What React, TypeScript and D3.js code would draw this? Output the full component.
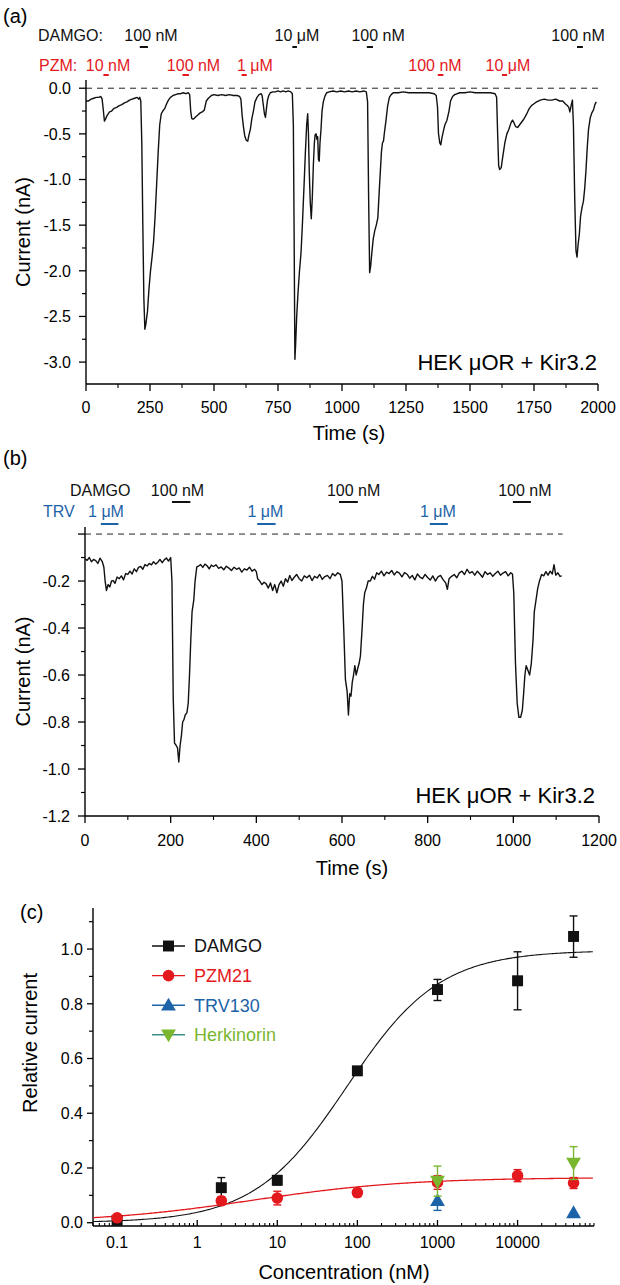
import React from "react";
import * as d3 from "d3";

const FONT = "'Liberation Sans', Arial, Helvetica, sans-serif";
const W = 620;
const H = 1285;

// ---------------- Panel (a) ----------------
const traceA: [number, number][] = [
  [0,-0.14],[10,-0.14],[20,-0.12],[30,-0.11],[40,-0.10],[50,-0.10],[58,-0.09],[63,-0.12],[68,-0.25],[72,-0.36],[76,-0.34],[82,-0.30],
  [92,-0.26],[100,-0.25],[110,-0.22],[120,-0.21],[130,-0.19],[140,-0.18],[150,-0.16],[160,-0.15],[170,-0.13],[180,-0.12],[190,-0.11],
  [200,-0.10],[206,-0.12],[210,-0.10],[214,-0.14],[218,-0.6],[222,-1.5],[226,-2.3],[230,-2.64],[234,-2.58],[240,-2.45],[246,-2.2],
  [252,-2.0],[258,-1.85],[264,-1.68],[270,-1.4],[276,-1.05],[282,-0.7],[288,-0.4],[294,-0.28],[300,-0.25],[308,-0.22],[315,-0.17],
  [322,-0.13],[330,-0.10],[340,-0.08],[350,-0.07],[360,-0.06],[370,-0.06],[380,-0.05],[390,-0.06],[400,-0.05],[405,-0.07],[409,-0.25],
  [413,-0.33],[418,-0.34],[423,-0.33],[430,-0.31],[438,-0.29],[446,-0.27],[454,-0.26],[462,-0.24],[466,-0.19],[470,-0.14],[478,-0.11],
  [490,-0.08],[500,-0.07],[515,-0.08],[530,-0.07],[545,-0.08],[560,-0.07],[575,-0.08],[590,-0.08],[600,-0.09],[605,-0.12],[610,-0.30],
  [615,-0.42],[620,-0.52],[626,-0.57],[632,-0.58],[636,-0.52],[642,-0.45],[648,-0.33],[654,-0.25],[660,-0.15],[668,-0.10],[676,-0.07],
  [684,-0.06],[688,-0.08],[692,-0.17],[697,-0.28],[701,-0.32],[705,-0.22],[709,-0.13],[714,-0.08],[720,-0.05],[730,-0.04],[740,-0.04],
  [750,-0.03],[760,-0.04],[770,-0.03],[780,-0.04],[790,-0.03],[800,-0.04],[806,-0.06],[810,-0.4],[813,-1.6],[816,-2.97],[819,-2.8],
  [823,-2.5],[828,-2.25],[834,-2.0],[840,-1.8],[846,-1.45],[852,-1.05],[857,-0.7],[862,-0.4],[866,-0.28],[869,-0.5],[872,-0.9],
  [876,-1.25],[880,-1.43],[884,-1.2],[888,-0.85],[892,-0.6],[895,-0.51],[899,-0.5],[902,-0.56],[905,-0.53],[908,-0.78],[911,-0.8],
  [914,-0.6],[918,-0.45],[922,-0.25],[927,-0.15],[933,-0.09],[940,-0.05],[950,-0.04],[965,-0.03],[980,-0.04],[995,-0.03],[1010,-0.04],
  [1025,-0.03],[1040,-0.04],[1055,-0.03],[1070,-0.04],[1085,-0.03],[1095,-0.04],[1100,-0.15],[1104,-1.2],[1108,-2.02],[1112,-1.95],
  [1116,-1.82],[1122,-1.65],[1128,-1.56],[1134,-1.5],[1140,-1.42],[1146,-1.1],[1150,-0.9],[1154,-0.7],[1158,-0.6],[1162,-0.58],
  [1166,-0.48],[1172,-0.35],[1178,-0.2],[1185,-0.1],[1192,-0.07],[1200,-0.05],[1220,-0.05],[1240,-0.04],[1260,-0.05],[1280,-0.05],
  [1300,-0.05],[1320,-0.05],[1340,-0.05],[1360,-0.06],[1368,-0.08],[1373,-0.2],[1377,-0.5],[1382,-0.6],[1386,-0.62],[1390,-0.55],
  [1396,-0.47],[1402,-0.4],[1410,-0.35],[1418,-0.25],[1424,-0.14],[1432,-0.09],[1440,-0.07],[1460,-0.05],[1480,-0.05],[1500,-0.04],
  [1520,-0.05],[1540,-0.05],[1560,-0.05],[1580,-0.05],[1598,-0.06],[1604,-0.1],[1608,-0.5],[1612,-0.85],[1616,-0.89],[1622,-0.87],
  [1628,-0.75],[1636,-0.6],[1644,-0.5],[1652,-0.45],[1660,-0.38],[1666,-0.35],[1672,-0.38],[1678,-0.42],[1686,-0.43],[1694,-0.4],
  [1702,-0.37],[1710,-0.34],[1720,-0.29],[1730,-0.23],[1740,-0.19],[1750,-0.17],[1760,-0.15],[1775,-0.13],[1790,-0.12],[1805,-0.13],
  [1820,-0.13],[1835,-0.12],[1850,-0.14],[1862,-0.14],[1872,-0.17],[1880,-0.19],[1886,-0.21],[1890,-0.26],[1895,-0.19],[1900,-0.13],
  [1904,-0.4],[1909,-1.2],[1914,-1.78],[1918,-1.85],[1922,-1.72],[1927,-1.6],[1932,-1.4],[1938,-1.3],[1943,-1.24],[1948,-1.1],
  [1953,-0.9],[1958,-0.65],[1963,-0.45],[1970,-0.32],[1976,-0.27],[1982,-0.24],[1988,-0.18],[1993,-0.15],
];
const yTicksA = [0, -0.5, -1.0, -1.5, -2.0, -2.5, -3.0];
const yTickLabelsA = ["0.0", "-0.5", "-1.0", "-1.5", "-2.0", "-2.5", "-3.0"];
const xTicksA = [0, 250, 500, 750, 1000, 1250, 1500, 1750, 2000];
const xTickLabelsA = ["0", "250", "500", "750", "1000", "1250", "1500", "1750", "2000"];
const damgoBarsA: [number, number][] = [[210, 242], [806, 824], [1097, 1121], [1918, 1941]];
const damgoLabelsA = ["100 nM", "10 \u03bcM", "100 nM", "100 nM"];
const damgoLabelTimesA = [254, 824, 1141, 1922];
const pzmBarsA: [number, number][] = [[68, 89], [377, 402], [608, 628], [1374, 1396], [1625, 1645]];
const pzmLabelsA = ["10 nM", "100 nM", "1 \u03bcM", "100 nM", "10 \u03bcM"];
const pzmLabelTimesA = [86, 420, 660, 1363, 1648];

// ---------------- Panel (b) ----------------
const traceB: [number, number][] = [
  [0,-0.105],[5,-0.112],[10,-0.1],[15,-0.118],[20,-0.108],[25,-0.113],[30,-0.125],[35,-0.103],[40,-0.116],[44,-0.14],[47,-0.2],[50,-0.24],
  [54,-0.215],[58,-0.225],[62,-0.2],[66,-0.198],[70,-0.21],[75,-0.183],[80,-0.19],[85,-0.178],[90,-0.195],[95,-0.168],[100,-0.172],
  [105,-0.158],[110,-0.17],[115,-0.148],[120,-0.16],[125,-0.142],[130,-0.138],[135,-0.15],[140,-0.13],[145,-0.136],[150,-0.125],
  [155,-0.131],[160,-0.118],[165,-0.128],[170,-0.12],[175,-0.108],[180,-0.122],[185,-0.11],[190,-0.102],[195,-0.115],[200,-0.1],
  [203,-0.2],[206,-0.7],[209,-0.89],[213,-0.9],[216,-0.91],[219,-0.97],[222,-0.9],[225,-0.86],[228,-0.8],[231,-0.79],[234,-0.77],
  [238,-0.76],[241,-0.72],[244,-0.6],[247,-0.45],[250,-0.33],[254,-0.28],[257,-0.2],[261,-0.14],[266,-0.135],
  [270,-0.13],[275,-0.142],[280,-0.128],[285,-0.135],[290,-0.148],[295,-0.132],[300,-0.138],[306,-0.131],[312,-0.146],[318,-0.14],
  [324,-0.152],[330,-0.137],[336,-0.145],[342,-0.155],[348,-0.141],[354,-0.15],[360,-0.144],[366,-0.162],[372,-0.148],[378,-0.153],
  [384,-0.141],[390,-0.158],[396,-0.15],[400,-0.16],
  [403,-0.19],[408,-0.2],[413,-0.215],[418,-0.205],[423,-0.212],[428,-0.23],[433,-0.208],[438,-0.24],[443,-0.215],[448,-0.25],[453,-0.215],
  [458,-0.2],[463,-0.222],[468,-0.19],[473,-0.205],[478,-0.176],[483,-0.198],[488,-0.185],[494,-0.172],[500,-0.19],[506,-0.2],
  [512,-0.178],[518,-0.186],[524,-0.175],[530,-0.198],[536,-0.18],[542,-0.187],[548,-0.172],[554,-0.193],[560,-0.181],[566,-0.176],
  [572,-0.19],[578,-0.168],[584,-0.178],[590,-0.165],[596,-0.172],
  [600,-0.2],[604,-0.4],[608,-0.62],[612,-0.67],[615,-0.77],[618,-0.68],[621,-0.69],[624,-0.63],[627,-0.6],[630,-0.56],[633,-0.6],
  [637,-0.57],[640,-0.55],[643,-0.52],[647,-0.4],[650,-0.3],[653,-0.25],[657,-0.23],[661,-0.2],[666,-0.2],
  [671,-0.18],[676,-0.192],[681,-0.165],[686,-0.172],[692,-0.158],[698,-0.178],[704,-0.162],[710,-0.168],[716,-0.155],[722,-0.174],
  [728,-0.16],[734,-0.166],[740,-0.182],[746,-0.164],[752,-0.171],[758,-0.188],[764,-0.176],[770,-0.195],[776,-0.17],[782,-0.183],
  [788,-0.19],[794,-0.172],[800,-0.185],[806,-0.196],[812,-0.178],[818,-0.2],[824,-0.182],[830,-0.176],[836,-0.194],[842,-0.208],
  [846,-0.235],[850,-0.19],[856,-0.18],[862,-0.172],[868,-0.186],[874,-0.165],[880,-0.158],[886,-0.172],[892,-0.15],[898,-0.166],
  [904,-0.16],[910,-0.175],[916,-0.158],[922,-0.17],[928,-0.184],[934,-0.16],[940,-0.172],[946,-0.165],[952,-0.18],[958,-0.168],
  [964,-0.158],[970,-0.175],[976,-0.166],[982,-0.16],[988,-0.178],[994,-0.165],[998,-0.17],
  [1001,-0.25],[1005,-0.55],[1009,-0.72],[1013,-0.78],[1017,-0.78],[1021,-0.75],[1024,-0.68],[1027,-0.6],[1030,-0.56],[1034,-0.58],
  [1038,-0.6],[1042,-0.55],[1046,-0.45],[1049,-0.33],[1053,-0.28],[1057,-0.23],
  [1061,-0.2],[1066,-0.172],[1071,-0.178],[1076,-0.16],[1081,-0.175],[1086,-0.158],[1091,-0.17],[1095,-0.13],[1099,-0.175],
  [1104,-0.165],[1109,-0.18],[1113,-0.178],
];
const yTicksB = [0, -0.2, -0.4, -0.6, -0.8, -1.0, -1.2];
const yTickLabelsB = ["", "-0.2", "-0.4", "-0.6", "-0.8", "-1.0", "-1.2"];
const xTicksB = [0, 200, 400, 600, 800, 1000, 1200];
const xTickLabelsB = ["0", "200", "400", "600", "800", "1000", "1200"];
const damgoBarsB: [number, number][] = [[203, 246], [593, 637], [999, 1041]];
const damgoLabelsB = ["100 nM", "100 nM", "100 nM"];
const damgoLabelTimesB = [216, 627, 1027];
const trvBarsB: [number, number][] = [[37, 78], [402, 445], [805, 847]];
const trvLabelsB = ["1 \u03bcM", "1 \u03bcM", "1 \u03bcM"];
const trvLabelTimesB = [49, 421, 824];

// ---------------- Panel (c) ----------------
const concDAMGO = [0.1, 2, 10, 100, 1000, 10000, 50000];
const meanDAMGO = [0.008, 0.128, 0.155, 0.555, 0.852, 0.884, 1.046];
const errUpDAMGO = [0.004, 0.037, 0.017, 0.01, 0.037, 0.106, 0.075];
const errDnDAMGO = [0.004, 0.037, 0.017, 0.01, 0.04, 0.106, 0.076];
const concPZM = [0.1, 2, 10, 100, 1000, 10000, 50000];
const meanPZM = [0.018, 0.08, 0.09, 0.11, 0.147, 0.172, 0.145];
const errPZM = [0.008, 0.015, 0.025, 0.015, 0.025, 0.022, 0.02];
const concTRV = [1000, 50000];
const meanTRV = [0.08, 0.036];
const errDnTRV = [0.035, 0.01];
const concHERK = [1000, 50000];
const meanHERK = [0.152, 0.218];
const errHERK = [0.055, 0.06];
// fitted Hill parameters
const fitDAMGO = { top: 0.995, ec50: 74, n: 0.75 };
const fitPZM = { top: 0.165, ec50: 5, n: 0.45 };
const yTicksC = [0, 0.2, 0.4, 0.6, 0.8, 1.0];
const yTickLabelsC = ["0.0", "0.2", "0.4", "0.6", "0.8", "1.0"];
const xTicksC = [0.1, 1, 10, 100, 1000, 10000];
const xTickLabelsC = ["0.1", "1", "10", "100", "1000", "10000"];
const legendNames = ["DAMGO", "PZM21", "TRV130", "Herkinorin"];

const BLACK = "#111";
const RED = "#e3191e";
const BLUE = "#1c63a8";
const GREEN = "#7ab72f";

type AxisProps = {
  scale: (v: number) => number;
  pos: number;
  from: number;
  to: number;
  major: number[];
  minor: number[];
  labels: string[];
  dir: number;
  majorLen?: number;
  minorLen?: number;
  gap: number;
  fontSize?: number;
};

function YAxis({ scale, pos, from, to, major, minor, labels, dir, majorLen = 7, minorLen = 4, gap, fontSize = 16 }: AxisProps) {
  return (
    <g>
      <line x1={pos} x2={pos} y1={from} y2={to} stroke="#000" strokeWidth={1.4} />
      {minor.map((v) => (
        <line key={"m" + v} x1={pos} x2={pos - dir * minorLen} y1={scale(v)} y2={scale(v)} stroke="#000" strokeWidth={1.2} />
      ))}
      {major.map((v, i) => (
        <g key={"M" + v}>
          <line x1={pos} x2={pos - dir * majorLen} y1={scale(v)} y2={scale(v)} stroke="#000" strokeWidth={1.3} />
          <text x={pos - gap} y={scale(v)} dy="0.36em" textAnchor="end" fontSize={fontSize}>
            {labels[i]}
          </text>
        </g>
      ))}
    </g>
  );
}

function XAxis({ scale, pos, from, to, major, minor, labels, dir, majorLen = 7, minorLen = 4, gap, fontSize = 16 }: AxisProps) {
  return (
    <g>
      <line x1={from} x2={to} y1={pos} y2={pos} stroke="#000" strokeWidth={1.4} />
      {minor.map((v) => (
        <line key={"m" + v} x1={scale(v)} x2={scale(v)} y1={pos} y2={pos + dir * minorLen} stroke="#000" strokeWidth={1.1} />
      ))}
      {major.map((v, i) => (
        <g key={"M" + v}>
          <line x1={scale(v)} x2={scale(v)} y1={pos} y2={pos + dir * majorLen} stroke="#000" strokeWidth={1.3} />
          <text x={scale(v)} y={pos + gap} textAnchor="middle" fontSize={fontSize}>
            {labels[i]}
          </text>
        </g>
      ))}
    </g>
  );
}

function hill(p: { top: number; ec50: number; n: number }, x: number) {
  return p.top / (1 + Math.pow(p.ec50 / x, p.n));
}

const sym = (type: d3.SymbolType, size: number) => d3.symbol().type(type).size(size)() || "";

export default function App() {
  // scales (a)
  const xA = d3.scaleLinear().domain([0, 2000]).range([86, 598]);
  const yA = d3.scaleLinear().domain([-3.24, 0.09]).range([384, 80]);
  const lineA = d3.line<[number, number]>().x((d) => xA(d[0])).y((d) => yA(d[1]));
  // scales (b)
  const xB = d3.scaleLinear().domain([0, 1200]).range([85, 599]);
  const yB = d3.scaleLinear().domain([-1.2, 0.03]).range([816, 527]);
  const lineB = d3.line<[number, number]>().x((d) => xB(d[0])).y((d) => yB(d[1]));
  // scales (c)
  const xC = d3.scaleLog().domain([0.05, 90000]).range([93, 594]);
  const yC = d3.scaleLinear().domain([-0.012, 1.15]).range([1226, 908]);
  const fitXs = d3.range(-1.3, 4.955, 0.02).map((e) => Math.pow(10, e));
  const curveD = d3.line<number>().x((x) => xC(x)).y((x) => yC(hill(fitDAMGO, x)))(fitXs) || "";
  const curveP = d3.line<number>().x((x) => xC(x)).y((x) => yC(hill(fitPZM, x)))(fitXs) || "";

  const minorC: number[] = [];
  for (let e = -2; e <= 4; e++) {
    for (let k = 2; k <= 9; k++) {
      const v = k * Math.pow(10, e);
      if (v >= 0.05 && v <= 90000) minorC.push(v);
    }
  }

  const sq = sym(d3.symbolSquare, 120);
  const circ = sym(d3.symbolCircle, 105);
  const tri = sym(d3.symbolTriangle, 95);

  const errBar = (x: number, y0: number, y1: number, color: string, key: string) => (
    <g key={key} stroke={color} strokeWidth={1.4}>
      <line x1={x} x2={x} y1={y0} y2={y1} />
      <line x1={x - 4} x2={x + 4} y1={y1} y2={y1} />
    </g>
  );

  const legendY = (i: number) => 946 + i * 29.6;

  return (
    <svg
      width={W}
      height={H}
      viewBox={`0 0 ${W} ${H}`}
      style={{ position: "absolute", left: 0, top: 0, background: "#fff" }}
      fontFamily={FONT}
    >
      <rect width={W} height={H} fill="#fff" />

      {/* ============ Panel (a) ============ */}
      <text x={3} y={23} fontSize={20}>(a)</text>
      <text x={38} y={41} fontSize={16} fill={BLACK}>DAMGO:</text>
      {damgoBarsA.map((b, i) => (
        <g key={"da" + i}>
          <line x1={xA(b[0])} x2={xA(b[1])} y1={47} y2={47} stroke={BLACK} strokeWidth={2} />
          <text x={xA(damgoLabelTimesA[i])} y={41} fontSize={16} textAnchor="middle" fill={BLACK}>
            {damgoLabelsA[i]}
          </text>
        </g>
      ))}
      <text x={39} y={71} fontSize={16} fill={RED}>PZM:</text>
      {pzmBarsA.map((b, i) => (
        <g key={"pa" + i}>
          <line x1={xA(b[0])} x2={xA(b[1])} y1={75} y2={75} stroke={RED} strokeWidth={2} />
          <text x={xA(pzmLabelTimesA[i])} y={71} fontSize={16} textAnchor="middle" fill={RED}>
            {pzmLabelsA[i]}
          </text>
        </g>
      ))}
      <line x1={xA(0)} x2={xA(2000)} y1={yA(0)} y2={yA(0)} stroke="#222" strokeWidth={1} strokeDasharray="6,5" />
      <YAxis
        scale={yA}
        pos={xA(0)}
        from={yA(0.09)}
        to={yA(-3.24)}
        major={yTicksA}
        minor={d3.range(-0.25, -3.2, -0.5)}
        labels={yTickLabelsA}
        dir={1}
        gap={15}
      />
      <XAxis
        scale={xA}
        pos={yA(-3.24)}
        from={xA(0)}
        to={xA(2000)}
        major={xTicksA}
        minor={d3.range(125, 2000, 250)}
        labels={xTickLabelsA}
        dir={1}
        gap={29}
      />
      <path d={lineA(traceA) || ""} fill="none" stroke={BLACK} strokeWidth={1.4} strokeLinejoin="round" />
      <text x={597} y={370} fontSize={22} textAnchor="end">HEK {"\u03bc"}OR + Kir3.2</text>
      <text x={349} y={440} fontSize={20} textAnchor="middle">Time (s)</text>
      <text transform={`translate(30, ${(yA(0.09) + yA(-3.24)) / 2}) rotate(-90)`} fontSize={20} textAnchor="middle">
        Current (nA)
      </text>

      {/* ============ Panel (b) ============ */}
      <text x={3} y={465} fontSize={20}>(b)</text>
      <text x={70} y={496} fontSize={16} fill={BLACK}>DAMGO</text>
      {damgoBarsB.map((b, i) => (
        <g key={"db" + i}>
          <line x1={xB(b[0])} x2={xB(b[1])} y1={502} y2={502} stroke={BLACK} strokeWidth={2} />
          <text x={xB(damgoLabelTimesB[i])} y={496} fontSize={16} textAnchor="middle" fill={BLACK}>
            {damgoLabelsB[i]}
          </text>
        </g>
      ))}
      <text x={43} y={517} fontSize={16} fill={BLUE}>TRV</text>
      {trvBarsB.map((b, i) => (
        <g key={"tb" + i}>
          <line x1={xB(b[0])} x2={xB(b[1])} y1={524} y2={524} stroke={BLUE} strokeWidth={2} />
          <text x={xB(trvLabelTimesB[i])} y={517} fontSize={16} textAnchor="middle" fill={BLUE}>
            {trvLabelsB[i]}
          </text>
        </g>
      ))}
      <line x1={xB(0)} x2={xB(1115)} y1={yB(0)} y2={yB(0)} stroke="#222" strokeWidth={1} strokeDasharray="6,5" />
      <YAxis
        scale={yB}
        pos={xB(0)}
        from={yB(0.03)}
        to={yB(-1.2)}
        major={yTicksB}
        minor={d3.range(-0.1, -1.2, -0.2)}
        labels={yTickLabelsB}
        dir={1}
        gap={15}
      />
      <XAxis
        scale={xB}
        pos={yB(-1.2)}
        from={xB(0)}
        to={xB(1200)}
        major={xTicksB}
        minor={d3.range(100, 1200, 200)}
        labels={xTickLabelsB}
        dir={1}
        gap={30}
      />
      <path d={lineB(traceB) || ""} fill="none" stroke={BLACK} strokeWidth={1.4} strokeLinejoin="round" />
      <text x={595} y={803} fontSize={22} textAnchor="end">HEK {"\u03bc"}OR + Kir3.2</text>
      <text x={352} y={875} fontSize={20} textAnchor="middle">Time (s)</text>
      <text transform={`translate(30, ${(yB(0.03) + yB(-1.2)) / 2}) rotate(-90)`} fontSize={20} textAnchor="middle">
        Current (nA)
      </text>

      {/* ============ Panel (c) ============ */}
      <text x={20} y={919} fontSize={20}>(c)</text>
      <YAxis
        scale={yC}
        pos={xC(0.05)}
        from={yC(1.15)}
        to={yC(-0.012)}
        major={yTicksC}
        minor={[0.1, 0.3, 0.5, 0.7, 0.9, 1.1]}
        labels={yTickLabelsC}
        dir={1}
        majorLen={6}
        minorLen={4}
        gap={10}
      />
      <XAxis
        scale={xC}
        pos={yC(-0.012)}
        from={xC(0.05)}
        to={xC(90000)}
        major={xTicksC}
        minor={minorC}
        labels={xTickLabelsC}
        dir={-1}
        majorLen={6}
        minorLen={3}
        gap={22}
      />
      <path d={curveD} fill="none" stroke={BLACK} strokeWidth={1.1} />
      <path d={curveP} fill="none" stroke={RED} strokeWidth={1.3} />

      {/* DAMGO */}
      {concDAMGO.map((c, i) => (
        <g key={"d" + i}>
          {errBar(xC(c), yC(meanDAMGO[i]), yC(meanDAMGO[i] + errUpDAMGO[i]), BLACK, "u")}
          {errBar(xC(c), yC(meanDAMGO[i]), yC(meanDAMGO[i] - errDnDAMGO[i]), BLACK, "l")}
          <path d={sq} transform={`translate(${xC(c)},${yC(meanDAMGO[i])})`} fill={BLACK} />
        </g>
      ))}
      {/* TRV130 */}
      {concTRV.map((c, i) => (
        <g key={"t" + i}>
          {errBar(xC(c), yC(meanTRV[i]), yC(meanTRV[i] - errDnTRV[i]), BLUE, "l")}
          <path d={tri} transform={`translate(${xC(c)},${yC(meanTRV[i]) + 1})`} fill={BLUE} />
        </g>
      ))}
      {/* PZM21 */}
      {concPZM.map((c, i) => (
        <g key={"p" + i}>
          {errBar(xC(c), yC(meanPZM[i]), yC(meanPZM[i] + errPZM[i]), RED, "u")}
          {errBar(xC(c), yC(meanPZM[i]), yC(meanPZM[i] - errPZM[i]), RED, "l")}
          <path d={circ} transform={`translate(${xC(c)},${yC(meanPZM[i])})`} fill={RED} />
        </g>
      ))}
      {/* Herkinorin */}
      {concHERK.map((c, i) => (
        <g key={"h" + i}>
          {errBar(xC(c), yC(meanHERK[i]), yC(meanHERK[i] + errHERK[i]), GREEN, "u")}
          {errBar(xC(c), yC(meanHERK[i]), yC(meanHERK[i] - errHERK[i]), GREEN, "l")}
          <path d={tri} transform={`translate(${xC(c)},${yC(meanHERK[i]) - 1}) rotate(180)`} fill={GREEN} />
        </g>
      ))}

      {/* Legend */}
      {legendNames.map((name, i) => {
        const color = [BLACK, RED, BLUE, GREEN][i];
        const lineColor = [BLACK, RED, BLUE, "#3f8f86"][i];
        const shape = [sq, circ, tri, tri][i];
        const y = legendY(i);
        return (
          <g key={"lg" + i}>
            <line x1={152} x2={185} y1={y} y2={y} stroke={lineColor} strokeWidth={1.4} />
            <path
              d={shape}
              transform={`translate(168.5,${y + (i === 2 ? 1 : i === 3 ? -1 : 0)})${i === 3 ? " rotate(180)" : ""}`}
              fill={color}
            />
            <text x={194} y={y} dy="0.36em" fontSize={18} fill={color}>
              {name}
            </text>
          </g>
        );
      })}

      <text transform={`translate(37, 1043) rotate(-90)`} fontSize={20} textAnchor="middle">
        Relative current
      </text>
      <text x={344} y={1279} fontSize={20} textAnchor="middle">Concentration (nM)</text>
    </svg>
  );
}
